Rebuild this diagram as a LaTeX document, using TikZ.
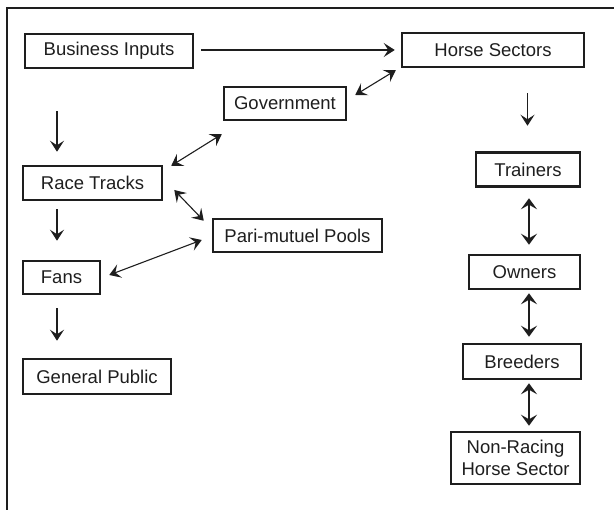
\documentclass[tikz,border=0pt]{standalone}
\usepackage{fontspec}
\setmainfont{Liberation Sans}
\usetikzlibrary{arrows.meta,calc}
\definecolor{ink}{HTML}{1E1E1E}
\begin{document}
\begin{tikzpicture}[x=1pt,y=-1pt,
  tip/.tip={Stealth[length=11pt,width=14pt,inset=4.5pt]},
  bigtip/.tip={Stealth[length=11pt,width=16pt,inset=4.5pt]},
  box/.style={draw=ink,line width=2.5pt,inner sep=0pt,text=ink,align=center,
    font=\fontsize{18.5}{21.5}\selectfont},
  conn/.style={draw=ink,line width=1.1pt,-tip},
  dconn/.style={draw=ink,line width=1.1pt,tip-tip},
  vconn/.style={draw=ink,line width=1.6pt,bigtip-bigtip}]
\useasboundingbox (0,0) rectangle (614,510);
\draw[ink,line width=2.6pt] (7,510) -- (7,8) -- (614,8);
\node[box,minimum width=168pt,minimum height=34pt] (bi) at (109,51) {Business Inputs};
\node[box,minimum width=182pt,minimum height=34pt] (hs) at (493,50) {Horse Sectors};
\node[box,minimum width=122pt,minimum height=33pt] (gov) at (285,103.5) {Government};
\node[box,minimum width=139pt,minimum height=34pt] (rt) at (92.5,183) {Race Tracks};
\node[box,minimum width=169pt,minimum height=33pt] (pm) at (297.5,235.5) {Pari-mutuel Pools};
\node[box,minimum width=77pt,minimum height=33pt] (fans) at (61.5,277.5) {Fans};
\node[box,minimum width=148pt,minimum height=35pt] (gp) at (97,376.5) {General Public};
\node[box,minimum width=104pt,minimum height=34pt] (tr) at (528,169.5) {Trainers};
\node[box,minimum width=111pt,minimum height=34pt] (ow) at (524.5,272) {Owners};
\node[box,minimum width=118pt,minimum height=35pt] (br) at (522,361.5) {Breeders};
\node[box,minimum width=129pt,minimum height=52pt] (nr) at (515.5,458) {Non-Racing\\Horse Sector};
% connectors
\draw[conn] ([xshift=7pt]bi.east |- hs.west) -- ([xshift=-6pt]hs.west);
\draw[dconn] ($(gov.east)+(8,-8.5)$) -- ($(hs.south west)+(-5,2)$);
\draw[conn] ($(hs.south)+(34.5,25)$) -- ($(tr.north)+(-0.5,-25.5)$);
\draw[conn] ($(bi.south)+(-52,42)$) -- ($(rt.north)+(-35.5,-13)$);
\draw[dconn] ($(rt.north east)+(8,1)$) -- ($(gov.south west)+(-1,13)$);
\draw[dconn] ($(rt.east)+(11,7)$) -- ($(pm.north west)+(-8,3)$);
\draw[conn] ($(rt.south)+(-35.5,8)$) -- ($(fans.north)+(-4.5,-19)$);
\draw[dconn] ($(fans.east)+(8,-2.5)$) -- ($(pm.west)+(-10,4.5)$);
\draw[conn] ($(fans.south)+(-4.5,13)$) -- ($(gp.north)+(-40,-17)$);
\draw[vconn] ($(tr.south)+(1,10.5)$) -- ($(ow.north)+(4.5,-9)$);
\draw[vconn] ($(ow.south)+(4.5,3)$) -- ($(br.north)+(7,-6)$);
\draw[vconn] ($(br.south)+(7,3)$) -- ($(nr.north)+(13.5,-5)$);
\end{tikzpicture}
\end{document}
